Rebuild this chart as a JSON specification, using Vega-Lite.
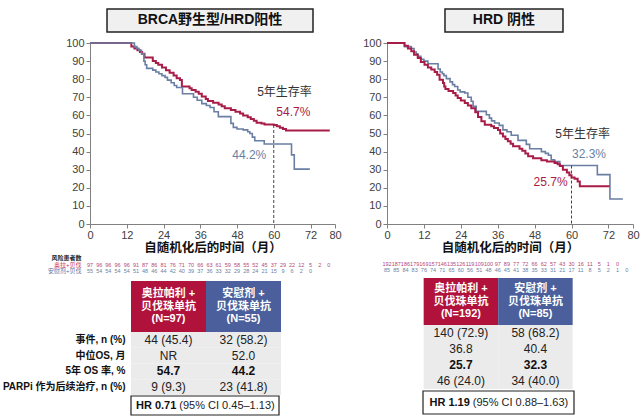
{
 "$schema": "https://vega.github.io/schema/vega-lite/v6.json",
 "padding": {"left": 2, "top": 8, "right": 0, "bottom": 0},
 "background": "white",
 "spacing": 20,
 "resolve": {"scale": {"color": "independent", "strokeWidth": "independent", "x": "independent", "y": "independent"}},
 "config": {
  "view": {"stroke": null},
  "font": "Liberation Sans, Noto Sans CJK SC",
  "axis": {"labelFont": "Liberation Sans, Noto Sans CJK SC", "titleFont": "Liberation Sans, Noto Sans CJK SC"},
  "text": {"font": "Liberation Sans, Noto Sans CJK SC"}
 },
 "datasets": {
  "kmL": [
   {"arm":"olaparib","t":0,"s":100},{"arm":"olaparib","t":13.5,"s":98},{"arm":"olaparib","t":14.5,"s":97},{"arm":"olaparib","t":15.5,"s":96},{"arm":"olaparib","t":16.3,"s":95},{"arm":"olaparib","t":17,"s":94},{"arm":"olaparib","t":17.8,"s":92},{"arm":"olaparib","t":20.5,"s":90},{"arm":"olaparib","t":21.5,"s":89},{"arm":"olaparib","t":22.3,"s":88},{"arm":"olaparib","t":23.5,"s":86.5},{"arm":"olaparib","t":24.8,"s":85},{"arm":"olaparib","t":26,"s":83.5},{"arm":"olaparib","t":27.3,"s":82},{"arm":"olaparib","t":28.3,"s":80.5},{"arm":"olaparib","t":29.4,"s":79.5},{"arm":"olaparib","t":30,"s":76},{"arm":"olaparib","t":32.5,"s":75},{"arm":"olaparib","t":33.2,"s":74},{"arm":"olaparib","t":34.5,"s":73},{"arm":"olaparib","t":35.5,"s":72},{"arm":"olaparib","t":36.5,"s":70.5},{"arm":"olaparib","t":37.8,"s":69},{"arm":"olaparib","t":38.5,"s":68},{"arm":"olaparib","t":40.2,"s":67},{"arm":"olaparib","t":42,"s":66},{"arm":"olaparib","t":43,"s":65},{"arm":"olaparib","t":44,"s":64},{"arm":"olaparib","t":46,"s":63},{"arm":"olaparib","t":47.5,"s":62},{"arm":"olaparib","t":49,"s":61},{"arm":"olaparib","t":50,"s":60},{"arm":"olaparib","t":51.5,"s":59},{"arm":"olaparib","t":52.5,"s":58},{"arm":"olaparib","t":53.5,"s":57},{"arm":"olaparib","t":54.4,"s":56},{"arm":"olaparib","t":56,"s":55.5},{"arm":"olaparib","t":57,"s":55},{"arm":"olaparib","t":60,"s":54.7},{"arm":"olaparib","t":61,"s":54},{"arm":"olaparib","t":62,"s":53.2},{"arm":"olaparib","t":63,"s":52.5},{"arm":"olaparib","t":64,"s":51.6},{"arm":"olaparib","t":78.3,"s":51.6},
   {"arm":"placebo","t":0,"s":100},{"arm":"placebo","t":14.5,"s":98},{"arm":"placebo","t":15.3,"s":97},{"arm":"placebo","t":16,"s":96},{"arm":"placebo","t":16.8,"s":94},{"arm":"placebo","t":17.6,"s":90},{"arm":"placebo","t":18,"s":88},{"arm":"placebo","t":18.5,"s":86},{"arm":"placebo","t":20.5,"s":85},{"arm":"placebo","t":21.5,"s":84},{"arm":"placebo","t":22.5,"s":83},{"arm":"placebo","t":23.5,"s":82},{"arm":"placebo","t":24.5,"s":81},{"arm":"placebo","t":25.3,"s":79.5},{"arm":"placebo","t":26.5,"s":78},{"arm":"placebo","t":27.5,"s":76.5},{"arm":"placebo","t":28.3,"s":75.4},{"arm":"placebo","t":30.2,"s":72},{"arm":"placebo","t":33.8,"s":70},{"arm":"placebo","t":35,"s":68.4},{"arm":"placebo","t":36.5,"s":66.5},{"arm":"placebo","t":38,"s":65.5},{"arm":"placebo","t":39.2,"s":64.4},{"arm":"placebo","t":40.5,"s":62},{"arm":"placebo","t":41.9,"s":59.3},{"arm":"placebo","t":46,"s":55.6},{"arm":"placebo","t":46.8,"s":53.4},{"arm":"placebo","t":48,"s":52.5},{"arm":"placebo","t":50,"s":52},{"arm":"placebo","t":51.5,"s":51},{"arm":"placebo","t":52.2,"s":50},{"arm":"placebo","t":53,"s":48},{"arm":"placebo","t":53.8,"s":46},{"arm":"placebo","t":56.9,"s":44.2},{"arm":"placebo","t":65.8,"s":38.2},{"arm":"placebo","t":66.7,"s":30.3},{"arm":"placebo","t":71.8,"s":30.3}
  ],
  "kmR": [
   {"arm":"placebo","t":0,"s":100},{"arm":"placebo","t":5.7,"s":98},{"arm":"placebo","t":7.9,"s":97},{"arm":"placebo","t":8.8,"s":95},{"arm":"placebo","t":9.5,"s":94},{"arm":"placebo","t":10,"s":92.6},{"arm":"placebo","t":11,"s":91},{"arm":"placebo","t":12,"s":90},{"arm":"placebo","t":13.3,"s":88.5},{"arm":"placebo","t":16.6,"s":85.6},{"arm":"placebo","t":17.3,"s":84},{"arm":"placebo","t":18,"s":83},{"arm":"placebo","t":18.5,"s":82},{"arm":"placebo","t":19.3,"s":80.3},{"arm":"placebo","t":20.5,"s":78.5},{"arm":"placebo","t":21.3,"s":77},{"arm":"placebo","t":22,"s":76},{"arm":"placebo","t":23,"s":74},{"arm":"placebo","t":23.8,"s":73},{"arm":"placebo","t":25.3,"s":72.4},{"arm":"placebo","t":26.3,"s":70},{"arm":"placebo","t":27.4,"s":67.8},{"arm":"placebo","t":28,"s":65},{"arm":"placebo","t":29,"s":62.2},{"arm":"placebo","t":32.3,"s":60.4},{"arm":"placebo","t":33.3,"s":58.5},{"arm":"placebo","t":34,"s":57},{"arm":"placebo","t":35,"s":55.8},{"arm":"placebo","t":36.5,"s":54.5},{"arm":"placebo","t":37.7,"s":52},{"arm":"placebo","t":39,"s":51},{"arm":"placebo","t":40.4,"s":49},{"arm":"placebo","t":42.6,"s":46.2},{"arm":"placebo","t":45.3,"s":44},{"arm":"placebo","t":46.4,"s":41.6},{"arm":"placebo","t":50.2,"s":40},{"arm":"placebo","t":51.5,"s":39},{"arm":"placebo","t":52.5,"s":38},{"arm":"placebo","t":53.4,"s":35.5},{"arm":"placebo","t":54.5,"s":34.5},{"arm":"placebo","t":56.2,"s":32.3},{"arm":"placebo","t":68.4,"s":27.3},{"arm":"placebo","t":72.5,"s":13.8},{"arm":"placebo","t":76.7,"s":13.8},
   {"arm":"olaparib","t":0,"s":100},{"arm":"olaparib","t":5.7,"s":98.5},{"arm":"olaparib","t":6.8,"s":97},{"arm":"olaparib","t":7.9,"s":95.4},{"arm":"olaparib","t":8.8,"s":93.5},{"arm":"olaparib","t":10,"s":91.7},{"arm":"olaparib","t":11,"s":89.5},{"arm":"olaparib","t":12.2,"s":88},{"arm":"olaparib","t":13.3,"s":86.5},{"arm":"olaparib","t":14.4,"s":85.3},{"arm":"olaparib","t":15.5,"s":84},{"arm":"olaparib","t":16.3,"s":82.5},{"arm":"olaparib","t":17.1,"s":79.7},{"arm":"olaparib","t":18.2,"s":77.9},{"arm":"olaparib","t":18.6,"s":76},{"arm":"olaparib","t":19,"s":74.6},{"arm":"olaparib","t":20,"s":73.5},{"arm":"olaparib","t":21.5,"s":72.4},{"arm":"olaparib","t":22.3,"s":71},{"arm":"olaparib","t":23,"s":69.6},{"arm":"olaparib","t":24,"s":68.3},{"arm":"olaparib","t":25.3,"s":66.9},{"arm":"olaparib","t":26.3,"s":65.5},{"arm":"olaparib","t":27.4,"s":64},{"arm":"olaparib","t":28.7,"s":61.7},{"arm":"olaparib","t":29.6,"s":59.1},{"arm":"olaparib","t":30.7,"s":56.7},{"arm":"olaparib","t":31.8,"s":54.9},{"arm":"olaparib","t":33.9,"s":54},{"arm":"olaparib","t":34.8,"s":53},{"arm":"olaparib","t":36.1,"s":52},{"arm":"olaparib","t":36.8,"s":50},{"arm":"olaparib","t":37.7,"s":48.4},{"arm":"olaparib","t":38.5,"s":47},{"arm":"olaparib","t":39.3,"s":45.7},{"arm":"olaparib","t":40.2,"s":44.3},{"arm":"olaparib","t":41,"s":42.9},{"arm":"olaparib","t":43.1,"s":41.6},{"arm":"olaparib","t":44,"s":40.5},{"arm":"olaparib","t":45,"s":39},{"arm":"olaparib","t":45.9,"s":37.4},{"arm":"olaparib","t":47.5,"s":36.3},{"arm":"olaparib","t":50.2,"s":35.2},{"arm":"olaparib","t":52,"s":34.5},{"arm":"olaparib","t":54.5,"s":33.7},{"arm":"olaparib","t":55.5,"s":33},{"arm":"olaparib","t":56.2,"s":32},{"arm":"olaparib","t":57.2,"s":30},{"arm":"olaparib","t":58.5,"s":28.5},{"arm":"olaparib","t":59.3,"s":27},{"arm":"olaparib","t":60,"s":25.7},{"arm":"olaparib","t":61,"s":25},{"arm":"olaparib","t":62,"s":23.5},{"arm":"olaparib","t":62.7,"s":20.8},{"arm":"olaparib","t":72.4,"s":20.8}
  ],
  "noteL": [
   {"arm":"note","t":63.5,"s":73,"label":"5年生存率"},
   {"arm":"olaparib","t":66.4,"s":62,"label":"54.7%"},
   {"arm":"placebo","t":52,"s":38.2,"label":"44.2%"}
  ],
  "noteR": [
   {"arm":"note","t":63.6,"s":49.7,"label":"5年生存率"},
   {"arm":"placebo","t":65.7,"s":38.8,"label":"32.3%"},
   {"arm":"olaparib","t":53.2,"s":23,"label":"25.7%"}
  ],
  "ruleL": [{"t":60,"s":54.7}],
  "ruleR": [{"t":60,"s":32.3}],
  "riskL": [
   {"row":"奥拉+贝伐","t":0,"n":97},{"row":"奥拉+贝伐","t":3,"n":96},{"row":"奥拉+贝伐","t":6,"n":96},{"row":"奥拉+贝伐","t":9,"n":96},{"row":"奥拉+贝伐","t":12,"n":96},{"row":"奥拉+贝伐","t":15,"n":91},{"row":"奥拉+贝伐","t":18,"n":87},{"row":"奥拉+贝伐","t":21,"n":86},{"row":"奥拉+贝伐","t":24,"n":81},{"row":"奥拉+贝伐","t":27,"n":76},{"row":"奥拉+贝伐","t":30,"n":71},{"row":"奥拉+贝伐","t":33,"n":70},{"row":"奥拉+贝伐","t":36,"n":66},{"row":"奥拉+贝伐","t":39,"n":63},{"row":"奥拉+贝伐","t":42,"n":61},{"row":"奥拉+贝伐","t":45,"n":59},{"row":"奥拉+贝伐","t":48,"n":58},{"row":"奥拉+贝伐","t":51,"n":55},{"row":"奥拉+贝伐","t":54,"n":52},{"row":"奥拉+贝伐","t":57,"n":45},{"row":"奥拉+贝伐","t":60,"n":37},{"row":"奥拉+贝伐","t":63,"n":29},{"row":"奥拉+贝伐","t":66,"n":22},{"row":"奥拉+贝伐","t":69,"n":12},{"row":"奥拉+贝伐","t":72,"n":5},{"row":"奥拉+贝伐","t":75,"n":2},{"row":"奥拉+贝伐","t":78,"n":0},
   {"row":"安慰剂+贝伐","t":0,"n":55},{"row":"安慰剂+贝伐","t":3,"n":54},{"row":"安慰剂+贝伐","t":6,"n":54},{"row":"安慰剂+贝伐","t":9,"n":54},{"row":"安慰剂+贝伐","t":12,"n":54},{"row":"安慰剂+贝伐","t":15,"n":51},{"row":"安慰剂+贝伐","t":18,"n":48},{"row":"安慰剂+贝伐","t":21,"n":46},{"row":"安慰剂+贝伐","t":24,"n":44},{"row":"安慰剂+贝伐","t":27,"n":42},{"row":"安慰剂+贝伐","t":30,"n":40},{"row":"安慰剂+贝伐","t":33,"n":39},{"row":"安慰剂+贝伐","t":36,"n":37},{"row":"安慰剂+贝伐","t":39,"n":36},{"row":"安慰剂+贝伐","t":42,"n":33},{"row":"安慰剂+贝伐","t":45,"n":32},{"row":"安慰剂+贝伐","t":48,"n":29},{"row":"安慰剂+贝伐","t":51,"n":28},{"row":"安慰剂+贝伐","t":54,"n":24},{"row":"安慰剂+贝伐","t":57,"n":21},{"row":"安慰剂+贝伐","t":60,"n":15},{"row":"安慰剂+贝伐","t":63,"n":9},{"row":"安慰剂+贝伐","t":66,"n":6},{"row":"安慰剂+贝伐","t":69,"n":2},{"row":"安慰剂+贝伐","t":72,"n":0}
  ],
  "riskR": [
   {"row":"奥拉+贝伐","t":0,"n":192},{"row":"奥拉+贝伐","t":3,"n":187},{"row":"奥拉+贝伐","t":6,"n":186},{"row":"奥拉+贝伐","t":9,"n":179},{"row":"奥拉+贝伐","t":12,"n":169},{"row":"奥拉+贝伐","t":15,"n":157},{"row":"奥拉+贝伐","t":18,"n":146},{"row":"奥拉+贝伐","t":21,"n":135},{"row":"奥拉+贝伐","t":24,"n":126},{"row":"奥拉+贝伐","t":27,"n":119},{"row":"奥拉+贝伐","t":30,"n":109},{"row":"奥拉+贝伐","t":33,"n":100},{"row":"奥拉+贝伐","t":36,"n":97},{"row":"奥拉+贝伐","t":39,"n":89},{"row":"奥拉+贝伐","t":42,"n":77},{"row":"奥拉+贝伐","t":45,"n":72},{"row":"奥拉+贝伐","t":48,"n":66},{"row":"奥拉+贝伐","t":51,"n":62},{"row":"奥拉+贝伐","t":54,"n":57},{"row":"奥拉+贝伐","t":57,"n":43},{"row":"奥拉+贝伐","t":60,"n":30},{"row":"奥拉+贝伐","t":63,"n":16},{"row":"奥拉+贝伐","t":66,"n":11},{"row":"奥拉+贝伐","t":69,"n":5},{"row":"奥拉+贝伐","t":72,"n":1},{"row":"奥拉+贝伐","t":75,"n":0},
   {"row":"安慰剂+贝伐","t":0,"n":85},{"row":"安慰剂+贝伐","t":3,"n":85},{"row":"安慰剂+贝伐","t":6,"n":84},{"row":"安慰剂+贝伐","t":9,"n":83},{"row":"安慰剂+贝伐","t":12,"n":76},{"row":"安慰剂+贝伐","t":15,"n":74},{"row":"安慰剂+贝伐","t":18,"n":71},{"row":"安慰剂+贝伐","t":21,"n":65},{"row":"安慰剂+贝伐","t":24,"n":60},{"row":"安慰剂+贝伐","t":27,"n":56},{"row":"安慰剂+贝伐","t":30,"n":51},{"row":"安慰剂+贝伐","t":33,"n":48},{"row":"安慰剂+贝伐","t":36,"n":46},{"row":"安慰剂+贝伐","t":39,"n":45},{"row":"安慰剂+贝伐","t":42,"n":41},{"row":"安慰剂+贝伐","t":45,"n":38},{"row":"安慰剂+贝伐","t":48,"n":35},{"row":"安慰剂+贝伐","t":51,"n":33},{"row":"安慰剂+贝伐","t":54,"n":31},{"row":"安慰剂+贝伐","t":57,"n":21},{"row":"安慰剂+贝伐","t":60,"n":17},{"row":"安慰剂+贝伐","t":63,"n":11},{"row":"安慰剂+贝伐","t":66,"n":8},{"row":"安慰剂+贝伐","t":69,"n":5},{"row":"安慰剂+贝伐","t":72,"n":2},{"row":"安慰剂+贝伐","t":75,"n":1},{"row":"安慰剂+贝伐","t":78,"n":0}
  ],
  "tblL": [
   {"row":"事件, n (%)","col":"A","v":"44 (45.4)"},{"row":"事件, n (%)","col":"B","v":"32 (58.2)"},
   {"row":"中位OS, 月","col":"A","v":"NR"},{"row":"中位OS, 月","col":"B","v":"52.0"},
   {"row":"5年 OS 率, %","col":"A","v":"54.7"},{"row":"5年 OS 率, %","col":"B","v":"44.2"},
   {"row":"PARPi 作为后续治疗, n (%)","col":"A","v":"9 (9.3)"},{"row":"PARPi 作为后续治疗, n (%)","col":"B","v":"23 (41.8)"}
  ],
  "tblR": [
   {"row":"事件, n (%)","col":"A","v":"140 (72.9)"},{"row":"事件, n (%)","col":"B","v":"58 (68.2)"},
   {"row":"中位OS, 月","col":"A","v":"36.8"},{"row":"中位OS, 月","col":"B","v":"40.4"},
   {"row":"5年 OS 率, %","col":"A","v":"25.7"},{"row":"5年 OS 率, %","col":"B","v":"32.3"},
   {"row":"PARPi 作为后续治疗, n (%)","col":"A","v":"46 (24.0)"},{"row":"PARPi 作为后续治疗, n (%)","col":"B","v":"34 (40.0)"}
  ]
 },
 "hconcat": [
  {
   "spacing": 0,
   "resolve": {"scale": {"color": "independent", "strokeWidth": "independent", "x": "independent", "y": "independent"}},
   "vconcat": [
    {
     "width": 245, "height": 28,
     "data": {"values": [{"panel": "BRCA野生型/HRD阳性"}]},
     "encoding": {
      "x": {"field": "panel", "type": "nominal", "scale": {"type": "band", "paddingInner": 0, "paddingOuter": 0.0947, "align": 0.436}, "axis": null},
      "y": {"field": "panel", "type": "nominal", "scale": {"type": "band", "paddingInner": 0, "paddingOuter": 0.1087, "align": 0}, "axis": null}
     },
     "layer": [
      {"mark": {"type": "rect", "fill": "#f0f0f0", "stroke": "#222", "strokeWidth": 1.5}},
      {"mark": {"type": "text", "fontSize": 14, "fontWeight": "bold", "color": "#111"}, "encoding": {"text": {"field": "panel"}}}
     ]
    },
    {
     "width": 245, "height": 181,
     "encoding": {
      "x": {"field": "t", "type": "quantitative", "scale": {"domain": [0, 80], "nice": false, "zero": false},
            "axis": {"values": [0,12,24,36,48,60,72,80], "title": "自随机化后的时间（月）", "titleFontSize": 12.5, "titleFontWeight": "bold", "titleColor": "#111", "titlePadding": 1, "labelFontSize": 11, "labelColor": "#404040", "labelPadding": 1, "tickSize": 4, "domainColor": "#808080", "tickColor": "#808080", "grid": false, "labelFlush": false, "labelOverlap": false}},
      "y": {"field": "s", "type": "quantitative", "scale": {"domain": [0, 100], "nice": false},
            "axis": {"values": [0,10,20,30,40,50,60,70,80,90,100], "title": null, "labelFontSize": 11, "labelColor": "#404040", "labelPadding": 2, "tickSize": 4, "domainColor": "#808080", "tickColor": "#808080", "grid": false, "labelFlush": false, "labelOverlap": false}}
     },
     "layer": [
      {
       "data": {"name": "kmL"},
       "mark": {"type": "line", "interpolate": "step-after"},
       "encoding": {
        "color": {"field": "arm", "type": "nominal", "scale": {"domain": ["olaparib", "placebo", "note"], "range": ["#a81c48", "#6a7fa3", "#333333"]}, "legend": null},
        "strokeWidth": {"field": "arm", "type": "nominal", "scale": {"domain": ["olaparib", "placebo"], "range": [2, 1.6]}, "legend": null}
       }
      },
      {
       "data": {"name": "ruleL"},
       "mark": {"type": "rule", "strokeDash": [3, 2], "color": "#444", "strokeWidth": 1},
       "encoding": {"y2": {"datum": 0}}
      },
      {
       "data": {"name": "noteL"},
       "mark": {"type": "text", "fontSize": 12},
       "encoding": {"text": {"field": "label"}, "color": {"field": "arm", "type": "nominal"}}
      }
     ]
    },
    {
     "width": 245, "height": 26,
     "data": {"name": "riskL"},
     "mark": {"type": "text", "fontSize": 5.5},
     "encoding": {
      "x": {"field": "t", "type": "quantitative", "scale": {"domain": [0, 80], "nice": false}, "axis": null},
      "y": {"field": "row", "type": "nominal", "scale": {"type": "band", "domain": ["风险患者数", "奥拉+贝伐", "安慰剂+贝伐"], "paddingInner": 0, "paddingOuter": 0.5, "align": 0},
            "axis": {"title": null, "domain": false, "ticks": false, "labelPadding": 9, "labelFontSize": 6,
                     "labelColor": {"condition": [{"test": "datum.label === '奥拉+贝伐'", "value": "#c2306a"}, {"test": "datum.label === '安慰剂+贝伐'", "value": "#5b6fa6"}], "value": "#222"},
                     "labelFontWeight": {"condition": {"test": "datum.label === '风险患者数'", "value": "bold"}, "value": "normal"}}},
      "text": {"field": "n"},
      "color": {"field": "row", "type": "nominal", "scale": {"domain": ["奥拉+贝伐", "安慰剂+贝伐"], "range": ["#b4487a", "#6d7fa3"]}, "legend": null}
     }
    },
    {
     "width": 245, "height": 51,
     "data": {"values": [{"col": "A", "txt": "奥拉帕利 +\n贝伐珠单抗\n(N=97)"}, {"col": "B", "txt": "安慰剂 +\n贝伐珠单抗\n(N=55)"}]},
     "encoding": {"x": {"field": "col", "type": "nominal", "scale": {"type": "band", "domain": ["A", "B"], "paddingInner": 0, "paddingOuter": 0.6333, "align": 0.4316}, "axis": null}},
     "layer": [
      {"mark": {"type": "rect"}, "encoding": {"color": {"field": "col", "type": "nominal", "scale": {"domain": ["A", "B"], "range": ["#b0123b", "#4a5f9c"]}, "legend": null}}},
      {"mark": {"type": "text", "fontSize": 11, "fontWeight": "bold", "color": "white", "lineBreak": "\n", "lineHeight": 12.5, "dy": -12.5}, "encoding": {"text": {"field": "txt"}}}
     ]
    },
    {
     "width": 245, "height": 63,
     "data": {"name": "tblL"},
     "encoding": {
      "x": {"field": "col", "type": "nominal", "scale": {"type": "band", "domain": ["A", "B"], "paddingInner": 0, "paddingOuter": 0.6333, "align": 0.4316}, "axis": null},
      "y": {"field": "row", "type": "nominal", "scale": {"type": "band", "domain": ["事件, n (%)", "中位OS, 月", "5年 OS 率, %", "PARPi 作为后续治疗, n (%)"], "paddingInner": 0, "paddingOuter": 0},
            "axis": {"title": null, "orient": "left", "offset": -41, "domain": false, "ticks": false, "labelPadding": 6, "labelFontSize": 10, "labelFontWeight": "bold", "labelColor": "#111", "labelLimit": 0}}
     },
     "layer": [
      {"mark": {"type": "rect", "fill": "#ebebeb"}},
      {"transform": [{"filter": "datum.row !== '5年 OS 率, %'"}], "mark": {"type": "text", "fontSize": 12, "color": "#222"}, "encoding": {"text": {"field": "v"}}},
      {"transform": [{"filter": "datum.row === '5年 OS 率, %'"}], "mark": {"type": "text", "fontSize": 12, "fontWeight": "bold", "color": "#111"}, "encoding": {"text": {"field": "v"}}}
     ]
    },
    {
     "width": 245, "height": 19,
     "data": {"values": [{"k": "hr", "b": "HR 0.71", "ci": "(95% CI 0.45–1.13)"}]},
     "encoding": {"x": {"field": "k", "type": "nominal", "scale": {"type": "band", "paddingInner": 0, "paddingOuter": 0.3277, "align": 0.4227}, "axis": null}},
     "layer": [
      {"mark": {"type": "rect", "fill": "white", "stroke": "#222", "strokeWidth": 1.2}},
      {"mark": {"type": "text", "fontSize": 11, "fontWeight": "bold", "align": "right", "dx": -28.7, "color": "#111"}, "encoding": {"text": {"field": "b"}}},
      {"mark": {"type": "text", "fontSize": 11, "align": "left", "dx": -25.7, "color": "#222"}, "encoding": {"text": {"field": "ci"}}}
     ]
    }
   ]
  },
  {
   "spacing": 0,
   "resolve": {"scale": {"color": "independent", "strokeWidth": "independent", "x": "independent", "y": "independent"}},
   "vconcat": [
    {
     "width": 246, "height": 28,
     "data": {"values": [{"panel": "HRD 阴性"}]},
     "encoding": {
      "x": {"field": "panel", "type": "nominal", "scale": {"type": "band", "paddingInner": 0, "paddingOuter": 0.5424, "align": 0.453}, "axis": null},
      "y": {"field": "panel", "type": "nominal", "scale": {"type": "band", "paddingInner": 0, "paddingOuter": 0.1087, "align": 0}, "axis": null}
     },
     "layer": [
      {"mark": {"type": "rect", "fill": "#f0f0f0", "stroke": "#222", "strokeWidth": 1.5}},
      {"mark": {"type": "text", "fontSize": 14, "fontWeight": "bold", "color": "#111"}, "encoding": {"text": {"field": "panel"}}}
     ]
    },
    {
     "width": 246, "height": 181,
     "encoding": {
      "x": {"field": "t", "type": "quantitative", "scale": {"domain": [0, 80], "nice": false, "zero": false},
            "axis": {"values": [0,12,24,36,48,60,72,80], "title": "自随机化后的时间（月）", "titleFontSize": 12.5, "titleFontWeight": "bold", "titleColor": "#111", "titlePadding": 1, "labelFontSize": 11, "labelColor": "#404040", "labelPadding": 1, "tickSize": 4, "domainColor": "#808080", "tickColor": "#808080", "grid": false, "labelFlush": false, "labelOverlap": false}},
      "y": {"field": "s", "type": "quantitative", "scale": {"domain": [0, 100], "nice": false},
            "axis": {"values": [0,10,20,30,40,50,60,70,80,90,100], "title": null, "labelFontSize": 11, "labelColor": "#404040", "labelPadding": 2, "tickSize": 4, "domainColor": "#808080", "tickColor": "#808080", "grid": false, "labelFlush": false, "labelOverlap": false}}
     },
     "layer": [
      {
       "data": {"name": "kmR"},
       "mark": {"type": "line", "interpolate": "step-after"},
       "encoding": {
        "color": {"field": "arm", "type": "nominal", "scale": {"domain": ["olaparib", "placebo", "note"], "range": ["#a81c48", "#6a7fa3", "#333333"]}, "legend": null},
        "strokeWidth": {"field": "arm", "type": "nominal", "scale": {"domain": ["olaparib", "placebo"], "range": [2, 1.6]}, "legend": null}
       }
      },
      {
       "data": {"name": "ruleR"},
       "mark": {"type": "rule", "strokeDash": [3, 2], "color": "#444", "strokeWidth": 1},
       "encoding": {"y2": {"datum": 0}}
      },
      {
       "data": {"name": "noteR"},
       "mark": {"type": "text", "fontSize": 12},
       "encoding": {"text": {"field": "label"}, "color": {"field": "arm", "type": "nominal"}}
      }
     ]
    },
    {
     "width": 246, "height": 24,
     "data": {"name": "riskR"},
     "mark": {"type": "text", "fontSize": 5.5},
     "encoding": {
      "x": {"field": "t", "type": "quantitative", "scale": {"domain": [0, 80], "nice": false}, "axis": null},
      "y": {"field": "row", "type": "nominal", "scale": {"type": "band", "domain": ["风险患者数", "奥拉+贝伐", "安慰剂+贝伐"], "paddingInner": 0, "paddingOuter": 0.346, "align": 0}, "axis": null},
      "text": {"field": "n"},
      "color": {"field": "row", "type": "nominal", "scale": {"domain": ["奥拉+贝伐", "安慰剂+贝伐"], "range": ["#b4487a", "#6d7fa3"]}, "legend": null}
     }
    },
    {
     "width": 246, "height": 47,
     "data": {"values": [{"col": "A", "txt": "奥拉帕利 +\n贝伐珠单抗\n(N=192)"}, {"col": "B", "txt": "安慰剂 +\n贝伐珠单抗\n(N=85)"}]},
     "encoding": {"x": {"field": "col", "type": "nominal", "scale": {"type": "band", "domain": ["A", "B"], "paddingInner": 0, "paddingOuter": 0.651, "align": 0.378}, "axis": null}},
     "layer": [
      {"mark": {"type": "rect"}, "encoding": {"color": {"field": "col", "type": "nominal", "scale": {"domain": ["A", "B"], "range": ["#b0123b", "#4a5f9c"]}, "legend": null}}},
      {"mark": {"type": "text", "fontSize": 11, "fontWeight": "bold", "color": "white", "lineBreak": "\n", "lineHeight": 12.5, "dy": -12.5}, "encoding": {"text": {"field": "txt"}}}
     ]
    },
    {
     "width": 246, "height": 64,
     "data": {"name": "tblR"},
     "encoding": {
      "x": {"field": "col", "type": "nominal", "scale": {"type": "band", "domain": ["A", "B"], "paddingInner": 0, "paddingOuter": 0.651, "align": 0.378}, "axis": null},
      "y": {"field": "row", "type": "nominal", "scale": {"type": "band", "domain": ["事件, n (%)", "中位OS, 月", "5年 OS 率, %", "PARPi 作为后续治疗, n (%)"], "paddingInner": 0, "paddingOuter": 0}, "axis": null}
     },
     "layer": [
      {"mark": {"type": "rect", "fill": "#ebebeb"}},
      {"transform": [{"filter": "datum.row !== '5年 OS 率, %'"}], "mark": {"type": "text", "fontSize": 12, "color": "#222"}, "encoding": {"text": {"field": "v"}}},
      {"transform": [{"filter": "datum.row === '5年 OS 率, %'"}], "mark": {"type": "text", "fontSize": 12, "fontWeight": "bold", "color": "#111"}, "encoding": {"text": {"field": "v"}}}
     ]
    },
    {
     "width": 246, "height": 25,
     "data": {"values": [{"k": "hr", "b": "HR 1.19", "ci": "(95% CI 0.88–1.63)"}]},
     "encoding": {
      "x": {"field": "k", "type": "nominal", "scale": {"type": "band", "paddingInner": 0, "paddingOuter": 0.3146, "align": 0.379}, "axis": null},
      "y": {"field": "k", "type": "nominal", "scale": {"type": "band", "paddingInner": 0, "paddingOuter": 0.0435, "align": 1}, "axis": null}
     },
     "layer": [
      {"mark": {"type": "rect", "fill": "white", "stroke": "#222", "strokeWidth": 1.2}},
      {"mark": {"type": "text", "fontSize": 11, "fontWeight": "bold", "align": "right", "dx": -28.7, "color": "#111"}, "encoding": {"text": {"field": "b"}}},
      {"mark": {"type": "text", "fontSize": 11, "align": "left", "dx": -25.7, "color": "#222"}, "encoding": {"text": {"field": "ci"}}}
     ]
    }
   ]
  }
 ]
}
